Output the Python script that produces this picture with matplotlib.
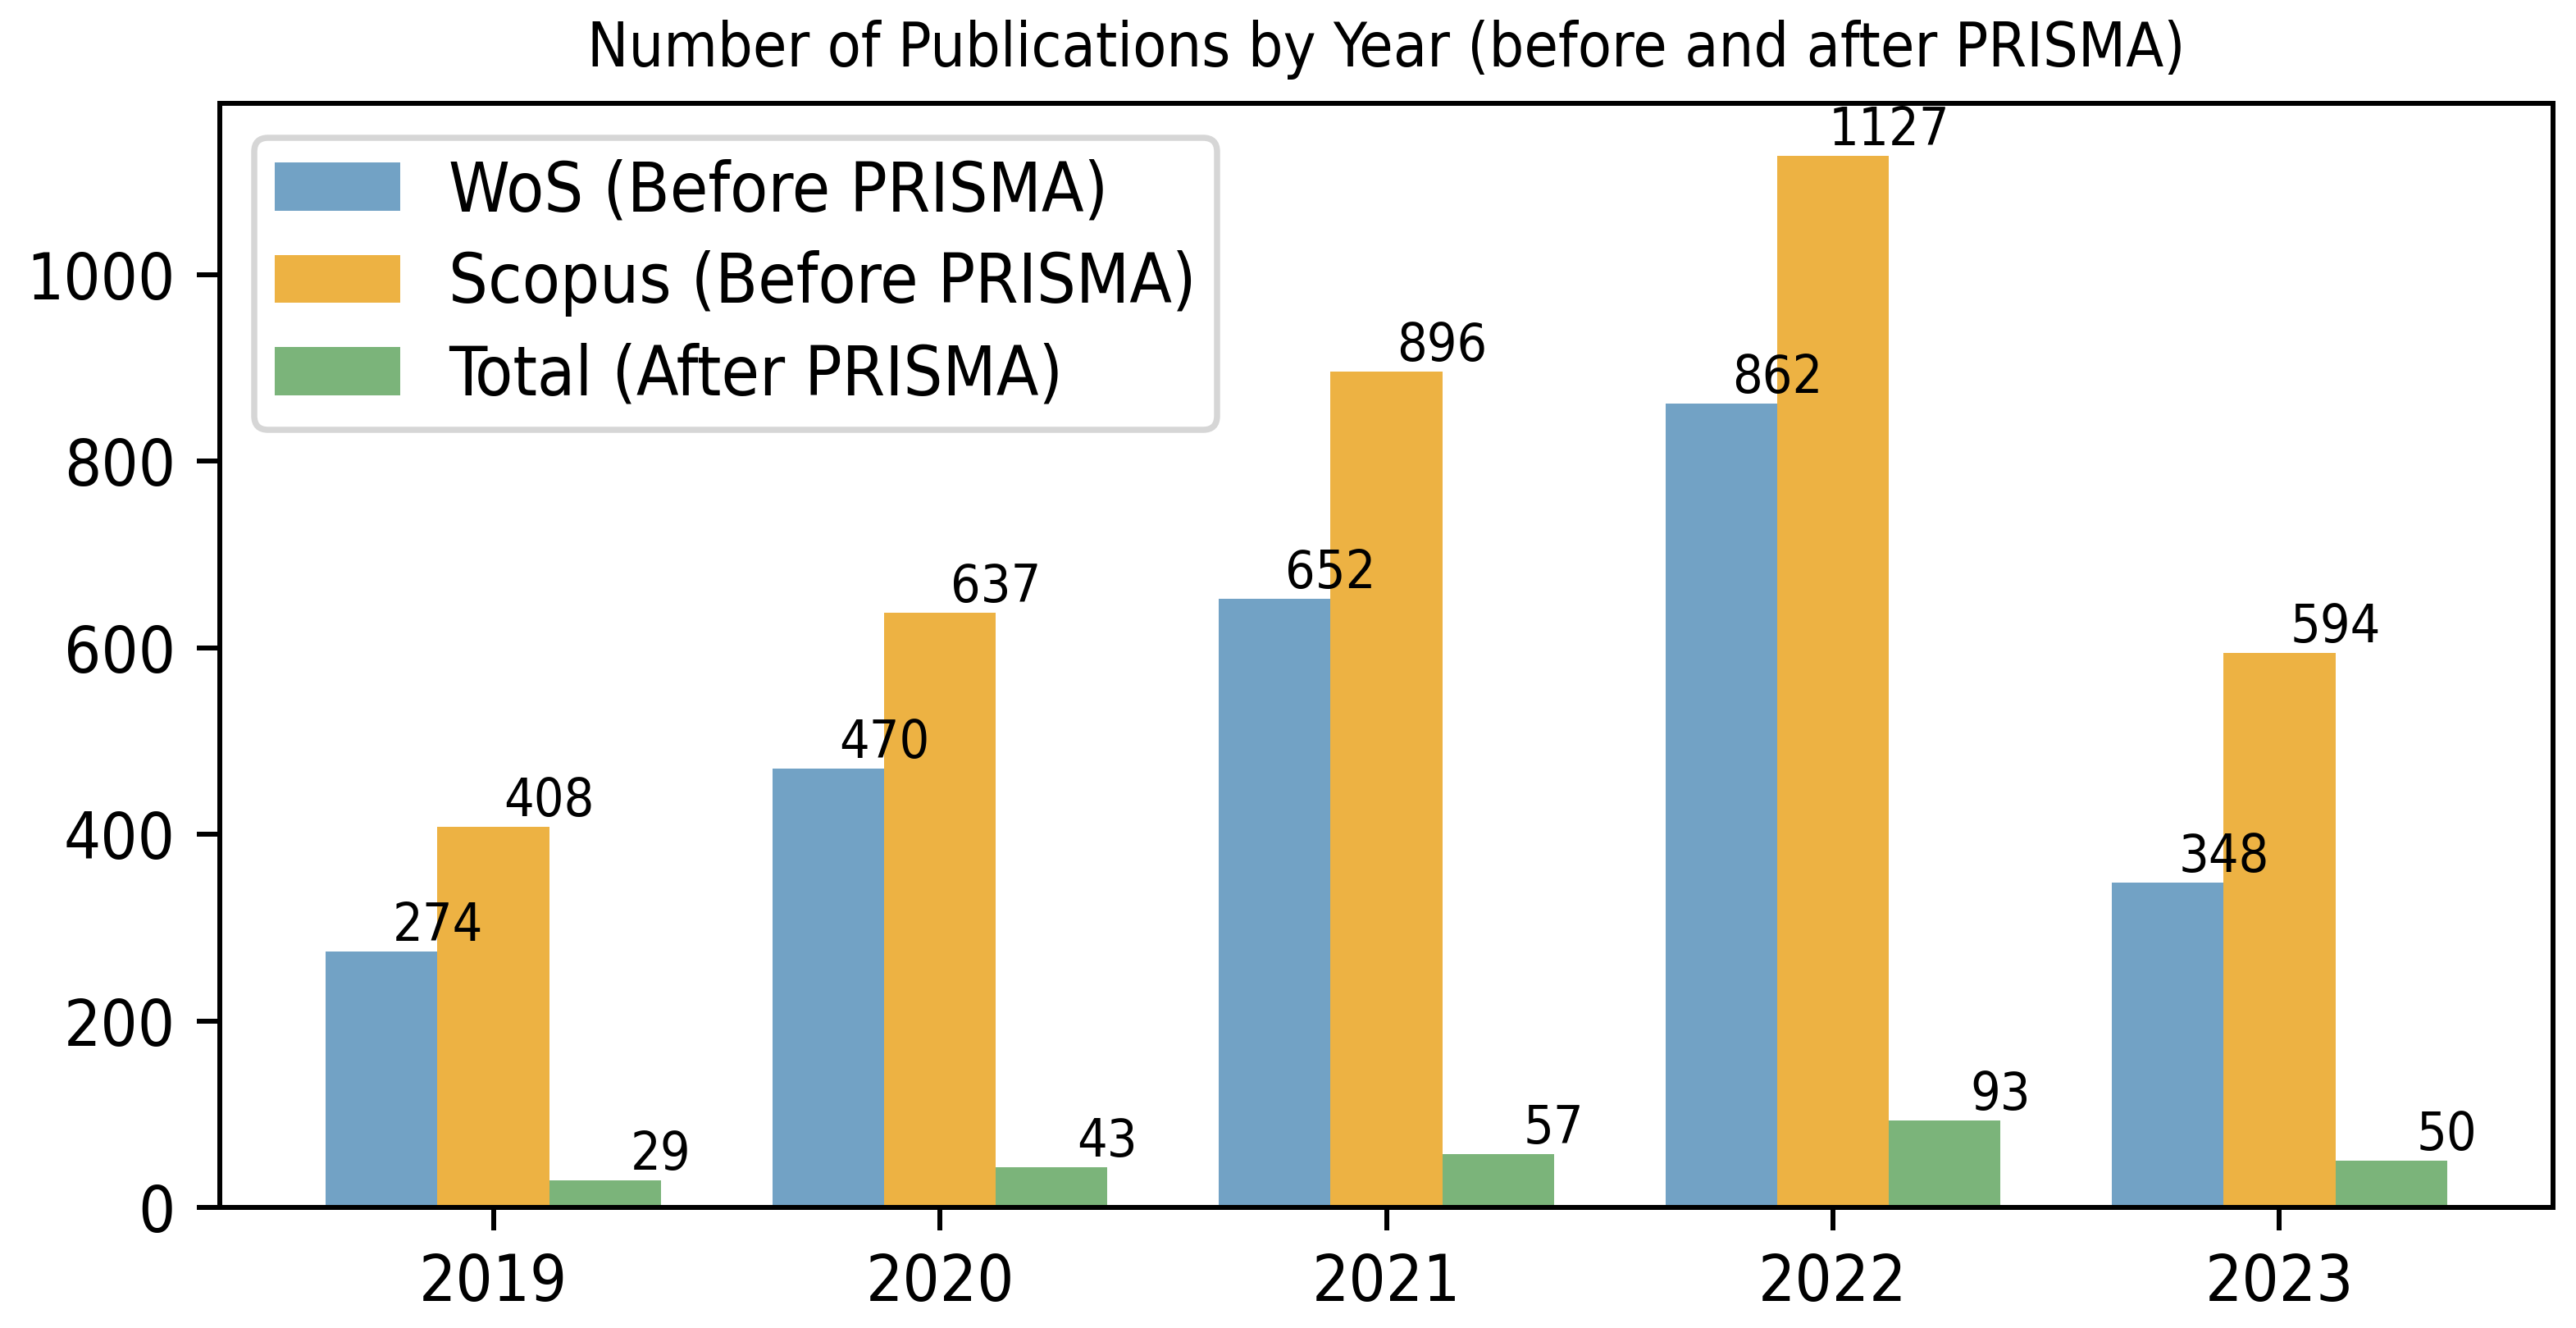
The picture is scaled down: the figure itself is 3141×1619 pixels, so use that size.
import matplotlib
matplotlib.use("Agg")
import matplotlib.pyplot as plt
from matplotlib import font_manager
import numpy as np

years = ['2019', '2020', '2021', '2022', '2023']
wos = [274, 470, 652, 862, 348]
scopus = [408, 637, 896, 1127, 594]
total = [29, 43, 57, 93, 50]

labels = ['WoS (Before PRISMA)', 'Scopus (Before PRISMA)', 'Total (After PRISMA)']
colors = ['#72a2c5', '#edb243', '#7bb47a']

# the reference text looks a bit narrow, use the condensed cut if it is there
k = 1.0
path = font_manager.findfont(font_manager.FontProperties(family='DejaVu Sans', stretch='condensed'))
if 'Condensed' in path:
    plt.rcParams['font.stretch'] = 'condensed'
    k = 1.1

dpi = 540
fig = plt.figure(figsize=(3141 / dpi, 1619 / dpi), dpi=dpi)
ax = fig.add_axes([268 / 3141, 147 / 1619, (3113 - 268) / 3141, (1472 - 126) / 1619])

x = np.arange(len(years))
w = 0.25
for i, (vals, lab, col) in enumerate(zip([wos, scopus, total], labels, colors)):
    pos = x + (i - 1) * w
    ax.bar(pos, vals, w, label=lab, color=col)
    for p, v in zip(pos, vals):
        # value sits at the right edge of each bar
        ax.text(p + w / 2, v, str(v), ha='center', va='bottom', fontsize=7.8 * k)

ax.set_xticks(x)
ax.set_xticklabels(years)
ax.tick_params(labelsize=9.6 * k, length=3.7)
ax.set_title('Number of Publications by Year (before and after PRISMA)', fontsize=9.1 * k)
ax.legend(loc='upper left', fontsize=10.2 * k, labelspacing=0.37, borderpad=0.3,
          handlelength=1.82, handletextpad=0.7)

fig.savefig('out.png', dpi=dpi)
